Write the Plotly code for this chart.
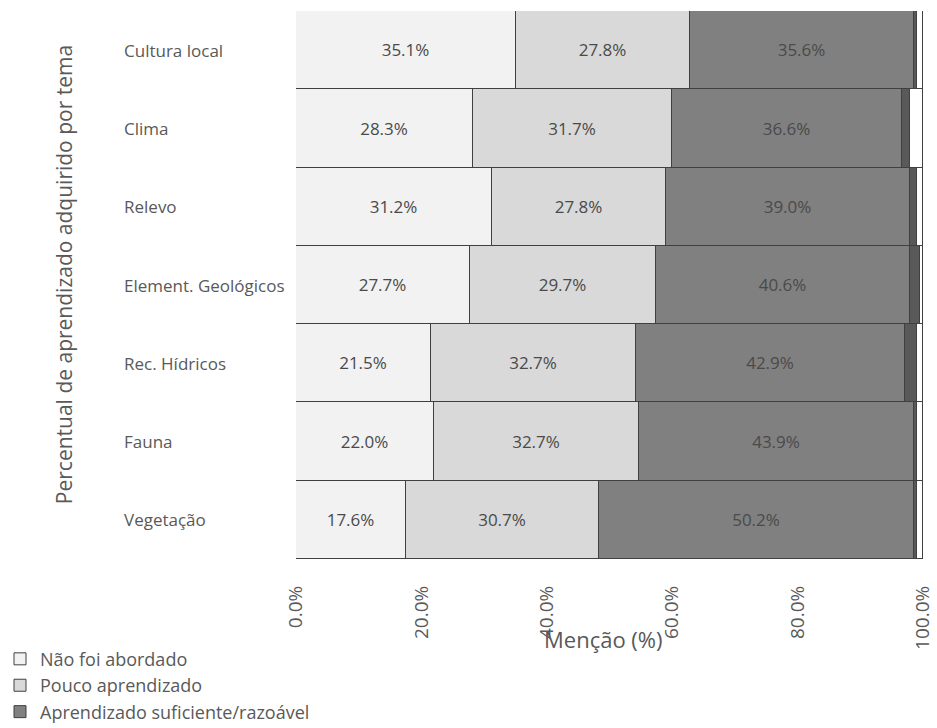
import plotly.graph_objects as go

# Themes (top to bottom as displayed)
temas = ["Cultura local", "Clima", "Relevo", "Element. Geológicos",
         "Rec. Hídricos", "Fauna", "Vegetação"]

# Percent of mentions per learning level
nao_abordado = [35.1, 28.3, 31.2, 27.7, 21.5, 22.0, 17.6]
pouco = [27.8, 31.7, 27.8, 29.7, 32.7, 32.7, 30.7]
suficiente = [35.6, 36.6, 39.0, 40.6, 42.9, 43.9, 50.2]
completo = [0.6, 1.3, 1.1, 1.5, 1.9, 0.5, 0.6]
sem_resposta = [0.9, 2.1, 0.9, 0.5, 1.0, 0.9, 0.9]

x_ticks = [0, 20, 40, 60, 80, 100]

series = [
    ("Não foi abordado", nao_abordado, "#f2f2f2", True, True),
    ("Pouco aprendizado", pouco, "#d9d9d9", True, True),
    ("Aprendizado suficiente/razoável", suficiente, "#808080", True, True),
    ("Aprendizado completo", completo, "#595959", False, False),
    ("Sem resposta", sem_resposta, "#ffffff", False, False),
]

FONT = "Open Sans"
GREY = "#595959"

fig = go.Figure()
for name, vals, color, legend, label in series:
    fig.add_trace(go.Bar(
        y=temas, x=vals, name=name, orientation="h",
        marker=dict(color=color, line=dict(color="#404040", width=1)),
        text=[f"{v:.1f}%" for v in vals] if label else None,
        textposition="inside" if label else "none",
        insidetextanchor="middle",
        textangle=0,
        textfont=dict(family=FONT, size=17, color="#4a4a4a"),
        showlegend=legend,
        hoverinfo="x+y+name",
    ))

# Left-aligned category labels
for t in temas:
    fig.add_annotation(x=-0.278, xref="paper", y=t, yref="y", text=t,
                       showarrow=False, xanchor="left", yanchor="middle",
                       font=dict(family=FONT, size=17, color=GREY))

fig.add_annotation(x=-0.37, xref="paper", y=0.518, yref="paper",
                   text="Percentual de aprendizado adquirido por tema",
                   textangle=-90, showarrow=False, xanchor="center", yanchor="middle",
                   font=dict(family=FONT, size=21, color=GREY))

fig.add_annotation(x=0.49, xref="paper", y=-0.146, yref="paper",
                   text="Menção (%)", showarrow=False,
                   xanchor="center", yanchor="middle",
                   font=dict(family=FONT, size=22, color=GREY))

fig.update_layout(
    width=937, height=728,
    margin=dict(l=296, r=14, t=11, b=169, autoexpand=False),
    barmode="stack", bargap=0,
    paper_bgcolor="white", plot_bgcolor="white",
    font=dict(family=FONT, color=GREY),
    legend=dict(xref="container", yref="container",
                x=0, xanchor="left", y=0.12, yanchor="top",
                font=dict(family=FONT, size=18, color=GREY),
                traceorder="normal", itemwidth=30, tracegroupgap=0,
                bgcolor="rgba(0,0,0,0)"),
    xaxis=dict(range=[0, 100], tickvals=x_ticks,
               ticktext=[f"{v:.1f}%" for v in x_ticks],
               tickangle=-90, showgrid=False, zeroline=False,
               ticks="", ticklabelstandoff=22, automargin=False,
               ticklabeloverflow="allow",
               tickfont=dict(family=FONT, size=19, color=GREY),
               showline=False),
    yaxis=dict(autorange="reversed", showticklabels=False, showgrid=False,
               zeroline=False, ticks="", showline=False, automargin=False),
)

fig.write_html("out.html")
